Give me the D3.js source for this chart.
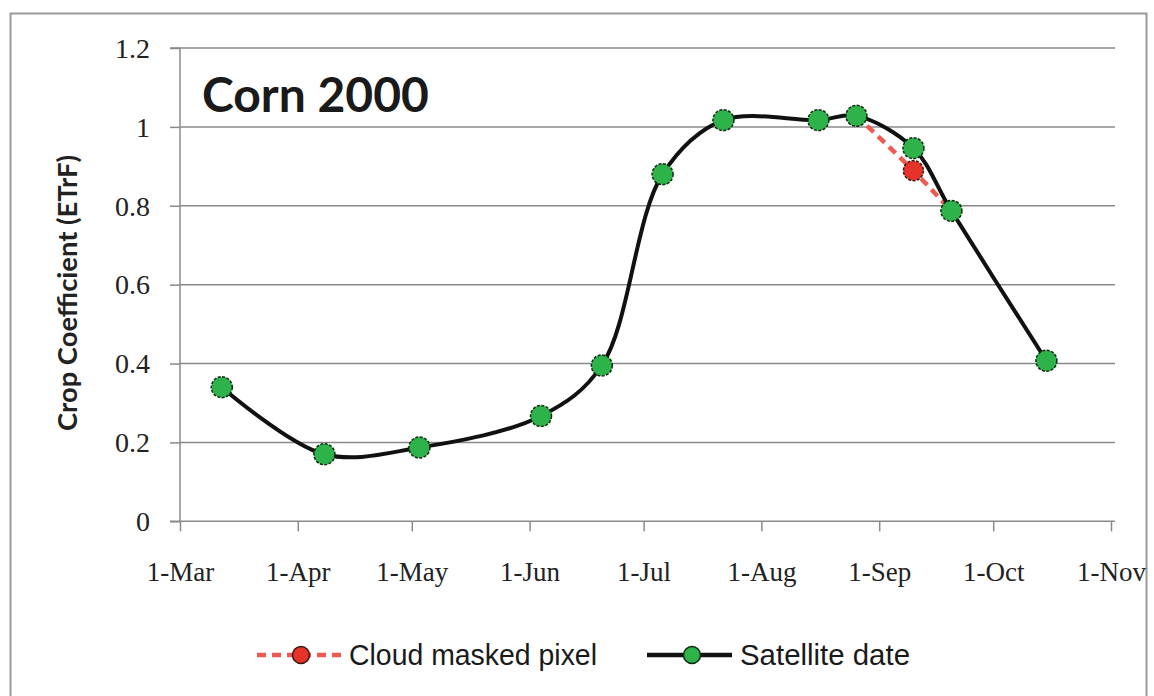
<!DOCTYPE html>
<html>
<head>
<meta charset="utf-8">
<script src="https://cdn.jsdelivr.net/npm/d3@7"></script>
<style>
  html, body { margin: 0; padding: 0; background: #fff; }
  svg { display: block; }
</style>
</head>
<body>
<svg id="chart" width="1154" height="696"></svg>
<script>
// ---- data ----
const satelliteDates = ["2000-03-12","2000-04-08","2000-05-03","2000-06-04","2000-06-20","2000-07-06",
                        "2000-07-22","2000-08-16","2000-08-26","2000-09-10","2000-09-20","2000-10-15"];
const satelliteValues = [0.34, 0.17, 0.187, 0.267, 0.395, 0.88, 1.017, 1.017, 1.028, 0.946, 0.787, 0.407];
const cloudDates = ["2000-08-26","2000-09-10","2000-09-20"];
const cloudValues = [1.028, 0.889, 0.787];
const xTickDates = ["2000-03-01","2000-04-01","2000-05-01","2000-06-01","2000-07-01",
                    "2000-08-01","2000-09-01","2000-10-01","2000-11-01"];
const yTicks = [0, 0.2, 0.4, 0.6, 0.8, 1, 1.2];
const yTickLabels = ["0", "0.2", "0.4", "0.6", "0.8", "1", "1.2"];
const title = "Corn 2000";
const yLabel = "Crop Coefficient (ETrF)";
const legendLabels = ["Cloud masked pixel", "Satellite date"];

// ---- setup ----
const parse = d3.timeParse("%Y-%m-%d");
const svg = d3.select("#chart");
const L = 180, R = 1111, T = 48, B = 521.3, gridRight = 1115;

const x = d3.scaleTime().domain([parse(xTickDates[0]), parse(xTickDates[xTickDates.length - 1])]).range([L, R]);
const y = d3.scaleLinear().domain([0, 1.2]).range([B, T]);

const gridColor = "#8a8a8a";
const green = "#2db34a";
const red = "#e5332a";

// frame
svg.append("rect").attr("x", 10.5).attr("y", 13.5).attr("width", 1136).attr("height", 700)
  .attr("fill", "#fff").attr("stroke", "#9a9a9a").attr("stroke-width", 2);

// gridlines
svg.append("g").selectAll("line").data(yTicks.filter(d => d > 0)).join("line")
  .attr("x1", L).attr("x2", gridRight)
  .attr("y1", d => y(d)).attr("y2", d => y(d))
  .attr("stroke", gridColor).attr("stroke-width", 1.5);

// y axis
const yAxis = d3.axisLeft(y).tickValues(yTicks).tickSize(10).tickPadding(20)
  .tickFormat((d, i) => yTickLabels[i]);
const gy = svg.append("g").attr("transform", `translate(${L},0)`).call(yAxis);
gy.select(".domain").attr("stroke", gridColor).attr("stroke-width", 1.5).attr("d", `M-10,${T}H0V${B}H-10`);
gy.selectAll(".tick line").attr("stroke", gridColor).attr("stroke-width", 1.5);
gy.selectAll(".tick text").attr("font-family", "Liberation Serif, serif").attr("font-size", 28)
  .attr("fill", "#222").attr("dy", "0.33em");

// x axis
const xAxis = d3.axisBottom(x).tickValues(xTickDates.map(parse)).tickSize(10).tickPadding(31)
  .tickFormat(d3.timeFormat("%-d-%b"));
const gx = svg.append("g").attr("transform", `translate(0,${B})`).call(xAxis);
gx.select(".domain").attr("stroke", gridColor).attr("stroke-width", 1.5).attr("d", `M${L},0H${gridRight}`);
gx.selectAll(".tick line").attr("stroke", gridColor).attr("stroke-width", 1.5);
gx.selectAll(".tick text").attr("font-family", "Liberation Serif, serif").attr("font-size", 27)
  .attr("fill", "#222");

// y label
svg.append("text").attr("transform", `translate(77,${293}) rotate(-90)`)
  .attr("text-anchor", "middle").attr("font-family", "Lato, sans-serif").attr("font-weight", "bold")
  .attr("font-size", 26).attr("textLength", 276).attr("lengthAdjust", "spacingAndGlyphs")
  .attr("fill", "#222").text(yLabel);

// title
svg.append("text").attr("x", 202).attr("y", 112).attr("font-family", "Lato, sans-serif")
  .attr("font-weight", "bold").attr("font-size", 48).attr("fill", "#1a1a1a").text(title);

// series
const cloud = cloudDates.map((d, i) => ({ date: parse(d), v: cloudValues[i] }));
const sat = satelliteDates.map((d, i) => ({ date: parse(d), v: satelliteValues[i] }));

const line = d3.line().x(d => x(d.date)).y(d => y(d.v)).curve(d3.curveCatmullRom.alpha(0.5));

svg.append("path").datum(cloud).attr("d", line).attr("fill", "none")
  .attr("stroke", "#ef5a50").attr("stroke-width", 4.5).attr("stroke-dasharray", "9,6");

svg.append("path").datum(sat).attr("d", line).attr("fill", "none")
  .attr("stroke", "#111").attr("stroke-width", 4);

svg.append("g").selectAll("circle").data(cloud.filter((d, i) => i === 1)).join("circle")
  .attr("cx", d => x(d.date)).attr("cy", d => y(d.v)).attr("r", 10)
  .attr("fill", red).attr("stroke", "#3a1a10").attr("stroke-width", 1.5).attr("stroke-dasharray", "3,1.5");

svg.append("g").selectAll("circle").data(sat).join("circle")
  .attr("cx", d => x(d.date)).attr("cy", d => y(d.v)).attr("r", 10.5)
  .attr("fill", green).attr("stroke", "#0f2a12").attr("stroke-width", 1.5).attr("stroke-dasharray", "3,1.5");

// legend
const ly = 655;
const lg = svg.append("g");
lg.append("line").attr("x1", 257).attr("x2", 342).attr("y1", ly).attr("y2", ly)
  .attr("stroke", "#ef5a50").attr("stroke-width", 4.5).attr("stroke-dasharray", "9,6");
lg.append("circle").attr("cx", 301).attr("cy", ly).attr("r", 8.5).attr("fill", red)
  .attr("stroke", "#3a1a10").attr("stroke-width", 1.5);
lg.append("text").attr("x", 349).attr("y", ly).attr("dy", "0.35em")
  .attr("font-family", "Liberation Sans, sans-serif").attr("font-size", 29)
  .attr("textLength", 248).attr("lengthAdjust", "spacingAndGlyphs")
  .attr("fill", "#1a1a1a").text(legendLabels[0]);
lg.append("line").attr("x1", 647).attr("x2", 732).attr("y1", ly).attr("y2", ly)
  .attr("stroke", "#111").attr("stroke-width", 4.5);
lg.append("circle").attr("cx", 692).attr("cy", ly).attr("r", 8.5).attr("fill", green)
  .attr("stroke", "#0f2a12").attr("stroke-width", 1.5);
lg.append("text").attr("x", 740).attr("y", ly).attr("dy", "0.35em")
  .attr("font-family", "Liberation Sans, sans-serif").attr("font-size", 29)
  .attr("textLength", 170).attr("lengthAdjust", "spacingAndGlyphs")
  .attr("fill", "#1a1a1a").text(legendLabels[1]);
</script>
</body>
</html>
